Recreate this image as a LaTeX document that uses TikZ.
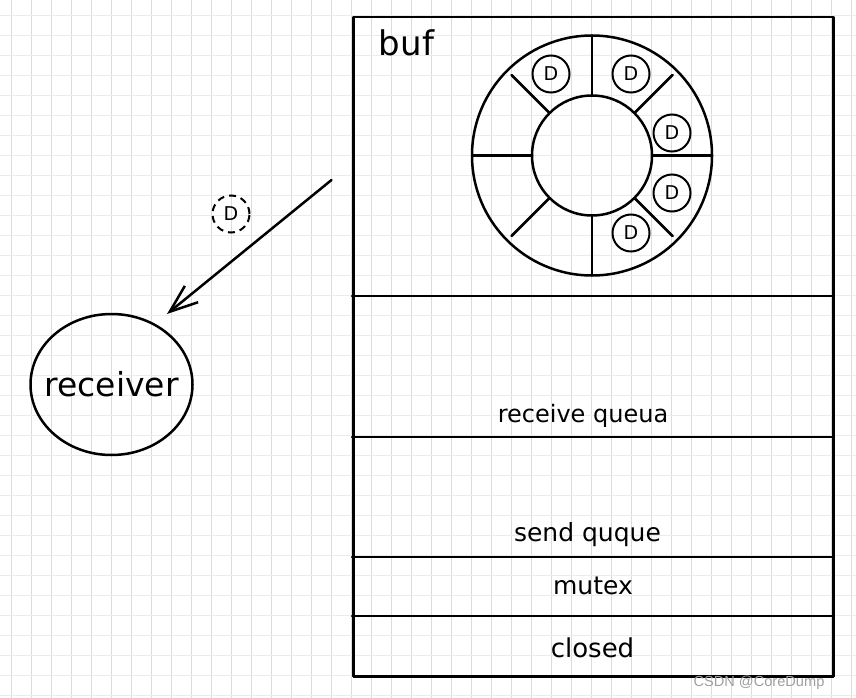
\documentclass[tikz,border=0pt]{standalone}
\usepackage{fontspec}
\setmainfont{DejaVu Sans}
\newfontfamily\wmfont{Liberation Sans}
\usetikzlibrary{arrows.meta,shapes.geometric}
\definecolor{gridv}{HTML}{DCDCDC}
\definecolor{gridh}{HTML}{EBEBEB}
\begin{document}
\begin{tikzpicture}[x=1pt,y=-1pt,
  ink/.style={line width=2.5pt, line cap=round, line join=round},
  lbl/.style={font=\fontsize{25}{25}\selectfont, anchor=base, inner sep=0pt},
  dball/.style={draw, circle, line width=2pt, minimum size=37pt, inner sep=0pt, font=\fontsize{19}{19}\selectfont},
]
\fill[white] (0,0) rectangle (856,698);
\useasboundingbox (0,0) rectangle (856,698);
\foreach \i in {0,...,42} \draw[gridv, line width=1pt] ({11.5+20*\i},0) -- ({11.5+20*\i},698);
\foreach \i in {0,...,34} \draw[gridh, line width=1pt] (0,{15.5+20*\i}) -- (856,{15.5+20*\i});

% channel box
\node[draw, ink, minimum width=480pt, minimum height=659pt, anchor=north west, inner sep=0pt] (chan) at (352,16) {};
\draw[ink] (352,296) -- (832,296);
\draw[ink] (352,437) -- (832,437);
\draw[ink] (352,557) -- (832,557);
\draw[ink] (352,616) -- (832,616);

% ring buffer
\coordinate (rc) at (592,155.5);
\draw[ink] (rc) circle[radius=120];
\draw[ink] (rc) circle[radius=60];
\foreach \a/\r in {0/120,45/114,90/120,135/114,180/120,225/114,270/120,315/114}
  \draw[ink, shift={(rc)}] (\a:60) -- (\a:\r);

\node[dball] (d1) at (551,74) {D};
\node[dball] (d2) at (631,74) {D};
\node[dball] (d3) at (672,133) {D};
\node[dball] (d4) at (672,193) {D};
\node[dball] (d5) at (631,233) {D};

% moving element
\node[dball, dashed, dash pattern=on 7pt off 5pt] (dmove) at (231,214) {D};

% receiver
\node[draw, ink, ellipse, minimum width=162pt, minimum height=141pt, inner sep=0pt,
      label={[font=\fontsize{33}{33}\selectfont, inner sep=0pt]center:receiver}] (recv) at (111.5,384.5) {};

\coordinate (asrc) at (331.5,180);
\coordinate (atip) at (167,314);
\draw[ink, -{Straight Barb[length=28pt, width=21pt, line width=2.5pt]}] (asrc) -- (atip);

% labels
\node[lbl, font=\fontsize{34}{34}\selectfont] (buf) at (406.5,56) {buf};
\node[lbl, font=\fontsize{24}{24}\selectfont] (rq) at (583,422) {receive queua};
\node[lbl] (sq) at (587.5,541.5) {send quque};
\node[lbl] (mx) at (593,594) {mutex};
\node[lbl, font=\fontsize{26}{26}\selectfont] (cl) at (592.5,657) {closed};

\node[font=\wmfont\fontsize{14.6}{14.6}\selectfont, text=gray!75, anchor=base, inner sep=0pt] (wm) at (759,686) {CSDN @CoreDump};
\end{tikzpicture}
\end{document}
